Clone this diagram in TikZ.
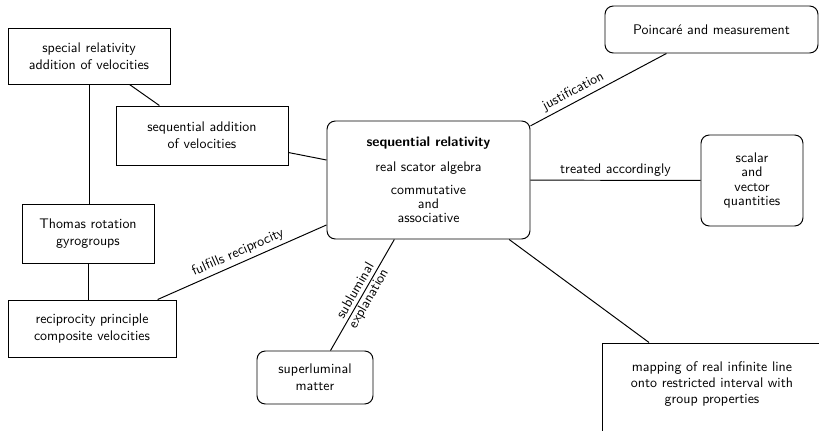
\documentclass[tikz,border=0pt]{standalone}
\usetikzlibrary{positioning}
\newcommand{\pxu}{0.718pt}

\begin{document}
\begin{tikzpicture}[x=\pxu, y=-\pxu, font=\sffamily, line width=0.7pt,
	sqbox/.style={rectangle, draw, align=center, inner sep=0pt},
	rdbox/.style={rectangle, draw, rounded corners=6pt, align=center, inner sep=0pt},
	dims/.style 2 args={minimum width=#1*\pxu, minimum height=#2*\pxu},
	lbl/.style={font=\sffamily, inner sep=2.5pt}
	]
	\useasboundingbox (0,0) rectangle (819,431);
	\clip (0,0) rectangle (819,431);

	\node[sqbox, dims={162}{56}] (special) at (89,56) {special relativity\\addition of velocities};
	\node[sqbox, dims={172}{59}] (seqadd) at (202,135.5) {sequential addition\\of velocities};
	\node[sqbox, dims={132}{59}] (thomas) at (88,233.5) {Thomas rotation\\gyrogroups};
	\node[sqbox, dims={168}{57}] (recip) at (92,328.5) {reciprocity principle\\composite velocities};
	\node[rdbox, dims={203}{118}, font=\sffamily\fontsize{10}{10}\selectfont] (central) at (428.5,180)
		{\textbf{sequential relativity}\\[8pt] real scator algebra\\[6.5pt] commutative\\ and\\ associative};
	\node[rdbox, dims={116}{53}] (superlum) at (315,377.5) {superluminal\\matter};
	\node[rdbox, dims={213}{47}] (poincare) at (711.5,29.5) {Poincar\'e and measurement};
	\node[rdbox, dims={102}{91}, font=\sffamily\fontsize{10}{10.5}\selectfont] (scalar) at (752,180.5)
		{scalar\\and\\vector\\quantities};
	\node[sqbox, dims={220}{92}, font=\sffamily\fontsize{10}{11.3}\selectfont, text depth=9pt] (mapping) at (712,389)
		{mapping of real infinite line\\onto restricted interval with\\group properties};

	\draw (special) -- (seqadd);
	\draw (special.south) -- (special.south |- thomas.north);
	\draw (thomas.south) -- (thomas.south |- recip.north);
	\draw (seqadd) -- (central);
	\draw (recip) -- node[lbl, above, sloped] {fulfills reciprocity} (central);
	\draw (superlum) -- node[lbl, sloped, align=center, font=\sffamily\fontsize{10}{11}\selectfont] {subluminal\\explanation} (central);
	\draw (central) -- node[lbl, above, sloped, pos=0.35] {justification} (poincare);
	\draw (central) -- node[lbl, above] {treated accordingly} (scalar);
	\draw (central) -- (mapping);
\end{tikzpicture}
\end{document}
